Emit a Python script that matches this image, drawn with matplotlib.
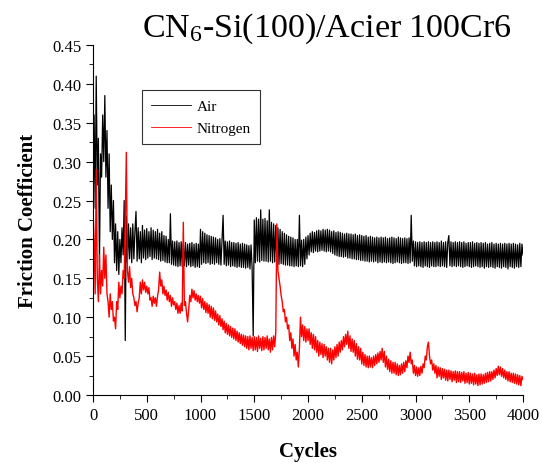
import numpy as np
import matplotlib.pyplot as plt
from matplotlib.ticker import MultipleLocator

plt.rcParams['font.family'] = ['Liberation Serif', 'DejaVu Serif']
plt.rcParams['mathtext.fontset'] = 'custom'
plt.rcParams['mathtext.rm'] = 'Liberation Serif'
plt.rcParams['mathtext.it'] = 'Liberation Serif:italic'

# friction coefficient every 10 cycles
cycles = np.arange(0, 4001, 10)

air = [
    0.22, 0.36, 0.24, 0.41, 0.27, 0.33, 0.17, 0.31, 0.28, 0.36,
    0.30, 0.385, 0.28, 0.34, 0.24, 0.31, 0.21, 0.27, 0.20, 0.25,
    0.17, 0.22, 0.16, 0.21, 0.155, 0.20, 0.17, 0.215, 0.18, 0.25,
    0.07, 0.23, 0.17, 0.22, 0.175, 0.215, 0.17, 0.22, 0.175, 0.21,
    0.236, 0.172, 0.215, 0.175, 0.21, 0.17, 0.218, 0.176, 0.212, 0.174,
    0.214, 0.176, 0.21, 0.178, 0.215, 0.174, 0.212, 0.176, 0.21, 0.175,
    0.213, 0.174, 0.208, 0.172, 0.21, 0.173, 0.205, 0.171, 0.204, 0.17,
    0.20, 0.17, 0.233, 0.168, 0.198, 0.167, 0.197, 0.166, 0.198, 0.165,
    0.196, 0.166, 0.197, 0.165, 0.195, 0.166, 0.196, 0.165, 0.194, 0.167,
    0.195, 0.165, 0.196, 0.166, 0.194, 0.164, 0.195, 0.165, 0.194, 0.164,
    0.213, 0.168, 0.21, 0.17, 0.208, 0.169, 0.206, 0.17, 0.205, 0.168,
    0.204, 0.169, 0.203, 0.168, 0.202, 0.17, 0.20, 0.168, 0.201, 0.167,
    0.199, 0.231, 0.168, 0.198, 0.166, 0.197, 0.167, 0.198, 0.165, 0.196,
    0.166, 0.196, 0.165, 0.195, 0.164, 0.196, 0.165, 0.194, 0.164, 0.195,
    0.164, 0.194, 0.163, 0.193, 0.164, 0.192, 0.162, 0.193, 0.163, 0.076,
    0.225, 0.17, 0.228, 0.172, 0.226, 0.171, 0.238, 0.173, 0.226, 0.172,
    0.227, 0.172, 0.224, 0.171, 0.238, 0.172, 0.222, 0.17, 0.22, 0.171,
    0.218, 0.17, 0.215, 0.168, 0.213, 0.169, 0.21, 0.168, 0.208, 0.167,
    0.206, 0.167, 0.204, 0.166, 0.203, 0.166, 0.202, 0.165, 0.20, 0.166,
    0.20, 0.165, 0.231, 0.166, 0.199, 0.165, 0.20, 0.168, 0.203, 0.175,
    0.205, 0.18, 0.208, 0.184, 0.21, 0.183, 0.209, 0.185, 0.211, 0.184,
    0.212, 0.185, 0.211, 0.186, 0.213, 0.185, 0.212, 0.184, 0.213, 0.185,
    0.212, 0.184, 0.21, 0.182, 0.211, 0.18, 0.209, 0.179, 0.21, 0.178,
    0.209, 0.178, 0.208, 0.177, 0.207, 0.178, 0.208, 0.176, 0.207, 0.176,
    0.207, 0.175, 0.206, 0.175, 0.207, 0.174, 0.205, 0.174, 0.206, 0.173,
    0.205, 0.173, 0.204, 0.172, 0.205, 0.172, 0.203, 0.171, 0.204, 0.172,
    0.203, 0.171, 0.202, 0.172, 0.203, 0.17, 0.202, 0.171, 0.203, 0.17,
    0.202, 0.171, 0.203, 0.17, 0.201, 0.171, 0.202, 0.17, 0.203, 0.169,
    0.202, 0.17, 0.201, 0.171, 0.203, 0.17, 0.202, 0.169, 0.201, 0.17,
    0.202, 0.17, 0.201, 0.169, 0.202, 0.17, 0.231, 0.172, 0.198, 0.166,
    0.197, 0.165, 0.196, 0.166, 0.197, 0.165, 0.196, 0.164, 0.197, 0.166,
    0.196, 0.165, 0.197, 0.164, 0.196, 0.166, 0.197, 0.165, 0.196, 0.165,
    0.197, 0.166, 0.196, 0.165, 0.198, 0.166, 0.196, 0.165, 0.197, 0.164,
    0.196, 0.205, 0.166, 0.197, 0.165, 0.196, 0.166, 0.197, 0.165, 0.196,
    0.166, 0.197, 0.165, 0.196, 0.164, 0.197, 0.165, 0.195, 0.166, 0.196,
    0.165, 0.196, 0.164, 0.197, 0.165, 0.195, 0.166, 0.196, 0.165, 0.195,
    0.164, 0.196, 0.165, 0.195, 0.163, 0.196, 0.165, 0.194, 0.164, 0.195,
    0.165, 0.196, 0.164, 0.194, 0.163, 0.195, 0.165, 0.194, 0.164, 0.195,
    0.163, 0.194, 0.165, 0.195, 0.164, 0.194, 0.162, 0.195, 0.165, 0.194,
    0.164, 0.195, 0.163, 0.194, 0.165, 0.193, 0.164, 0.195, 0.165, 0.194,
    0.18,
]

nitrogen = [
    0.24, 0.20, 0.13, 0.29, 0.15, 0.12, 0.18, 0.13, 0.16, 0.14,
    0.19, 0.15, 0.18, 0.13, 0.12, 0.10, 0.13, 0.11, 0.12, 0.095,
    0.10, 0.085, 0.12, 0.11, 0.145, 0.125, 0.14, 0.13, 0.16, 0.15,
    0.226, 0.312, 0.16, 0.145, 0.165, 0.138, 0.15, 0.13, 0.125, 0.115,
    0.12, 0.107, 0.118, 0.125, 0.145, 0.13, 0.148, 0.135, 0.145, 0.132,
    0.14, 0.13, 0.138, 0.122, 0.125, 0.114, 0.127, 0.118, 0.125, 0.114,
    0.127, 0.135, 0.158, 0.14, 0.148, 0.13, 0.14, 0.128, 0.135, 0.122,
    0.132, 0.12, 0.128, 0.114, 0.125, 0.116, 0.12, 0.11, 0.118, 0.105,
    0.115, 0.105, 0.118, 0.108, 0.222, 0.115, 0.12, 0.105, 0.094, 0.11,
    0.128, 0.12, 0.136, 0.125, 0.134, 0.122, 0.13, 0.12, 0.128, 0.118,
    0.127, 0.112, 0.124, 0.11, 0.12, 0.106, 0.118, 0.105, 0.116, 0.10,
    0.114, 0.098, 0.112, 0.096, 0.108, 0.094, 0.104, 0.09, 0.102, 0.088,
    0.098, 0.084, 0.095, 0.08, 0.092, 0.078, 0.09, 0.076, 0.088, 0.074,
    0.086, 0.072, 0.085, 0.07, 0.082, 0.068, 0.08, 0.066, 0.078, 0.064,
    0.077, 0.062, 0.076, 0.06, 0.075, 0.058, 0.076, 0.06, 0.074, 0.057,
    0.075, 0.058, 0.074, 0.056, 0.076, 0.06, 0.073, 0.057, 0.075, 0.058,
    0.074, 0.06, 0.076, 0.058, 0.072, 0.055, 0.074, 0.058, 0.076, 0.062,
    0.08, 0.22, 0.16, 0.15, 0.14, 0.128, 0.12, 0.107, 0.11, 0.094,
    0.10, 0.085, 0.09, 0.07, 0.08, 0.06, 0.072, 0.05, 0.065, 0.045,
    0.055, 0.036, 0.06, 0.10, 0.075, 0.09, 0.07, 0.088, 0.068, 0.085,
    0.07, 0.085, 0.065, 0.08, 0.06, 0.078, 0.058, 0.075, 0.055, 0.07,
    0.05, 0.068, 0.052, 0.066, 0.048, 0.065, 0.05, 0.062, 0.045, 0.06,
    0.042, 0.06, 0.04, 0.058, 0.045, 0.062, 0.048, 0.065, 0.05, 0.068,
    0.055, 0.07, 0.058, 0.075, 0.062, 0.078, 0.065, 0.082, 0.06, 0.076,
    0.056, 0.072, 0.055, 0.07, 0.05, 0.066, 0.046, 0.062, 0.045, 0.06,
    0.04, 0.055, 0.038, 0.052, 0.036, 0.05, 0.035, 0.05, 0.036, 0.048,
    0.035, 0.05, 0.038, 0.052, 0.04, 0.054, 0.042, 0.056, 0.045, 0.06,
    0.042, 0.056, 0.036, 0.05, 0.033, 0.046, 0.03, 0.044, 0.028, 0.042,
    0.028, 0.042, 0.026, 0.04, 0.025, 0.038, 0.026, 0.04, 0.028, 0.042,
    0.03, 0.044, 0.035, 0.05, 0.042, 0.055, 0.04, 0.045, 0.028, 0.038,
    0.025, 0.036, 0.024, 0.035, 0.025, 0.037, 0.028, 0.04, 0.035, 0.05,
    0.045, 0.062, 0.068, 0.05, 0.04, 0.045, 0.032, 0.04, 0.028, 0.038,
    0.022, 0.036, 0.024, 0.035, 0.02, 0.034, 0.022, 0.033, 0.019, 0.032,
    0.018, 0.032, 0.02, 0.031, 0.017, 0.03, 0.019, 0.031, 0.016, 0.03,
    0.017, 0.03, 0.016, 0.029, 0.018, 0.03, 0.015, 0.028, 0.016, 0.029,
    0.014, 0.028, 0.015, 0.027, 0.013, 0.028, 0.014, 0.026, 0.012, 0.027,
    0.013, 0.027, 0.014, 0.026, 0.015, 0.028, 0.016, 0.029, 0.017, 0.03,
    0.018, 0.03, 0.02, 0.032, 0.022, 0.034, 0.025, 0.037, 0.026, 0.036,
    0.024, 0.034, 0.022, 0.032, 0.02, 0.03, 0.018, 0.03, 0.017, 0.028,
    0.016, 0.028, 0.015, 0.027, 0.014, 0.026, 0.013, 0.025, 0.012, 0.024,
    0.02,
]

fig = plt.figure(figsize=(5.42, 4.64), dpi=100)
ax = fig.add_axes([0.1716, 0.1466, 0.7934, 0.7543])

ax.plot(cycles, air, color='black', lw=0.9, label='Air')
ax.plot(cycles, nitrogen, color='red', lw=1.0, label='Nitrogen')

ax.set_xlim(0, 4000)
ax.set_ylim(0, 0.45)
ax.xaxis.set_major_locator(MultipleLocator(500))
ax.xaxis.set_minor_locator(MultipleLocator(250))
ax.yaxis.set_major_locator(MultipleLocator(0.05))
ax.yaxis.set_minor_locator(MultipleLocator(0.025))
ax.yaxis.set_major_formatter(plt.FormatStrFormatter('%.2f'))
ax.spines['top'].set_visible(False)
ax.spines['right'].set_visible(False)
ax.tick_params(which='major', direction='out', length=5, labelsize=12)
ax.tick_params(which='minor', direction='out', length=3)

ax.set_xlabel('Cycles', fontsize=15, fontweight='bold', labelpad=13)
ax.set_ylabel('Friction Coefficient', fontsize=15, fontweight='bold', labelpad=10)

leg = ax.legend(loc='upper left', bbox_to_anchor=(0.114, 0.871), fontsize=11,
                frameon=True, fancybox=False, handlelength=2.6,
                handletextpad=0.4, borderpad=0.6, labelspacing=0.55,
                borderaxespad=0, edgecolor='black')
leg.get_frame().set_linewidth(0.8)
for h in leg.get_lines():
    h.set_linewidth(0.6)

fig.text(0.945, 0.975, 'CN$_6$-Si(100)/Acier 100Cr6', ha='right', va='top',
         fontsize=24.5)

fig.savefig('out.png', dpi=100)
